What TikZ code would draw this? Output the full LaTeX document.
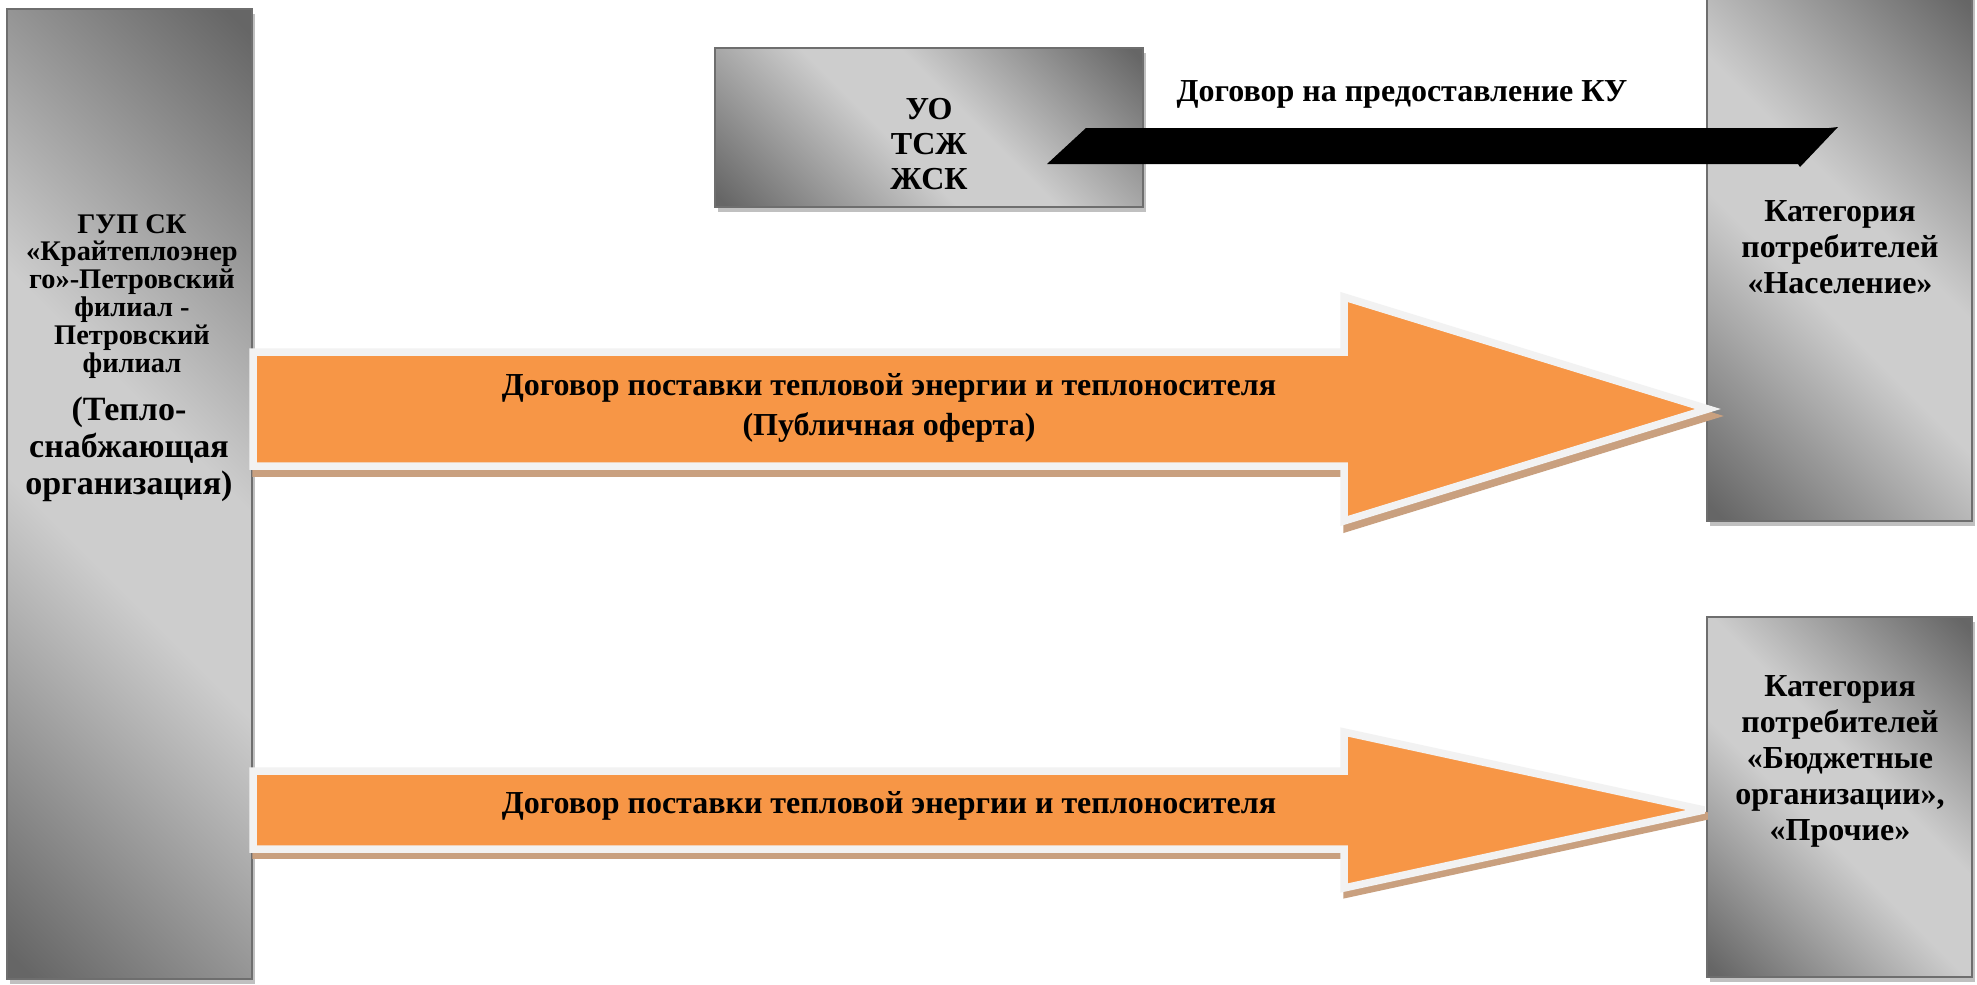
\documentclass[tikz,border=0pt]{standalone}
\usepackage{fontspec}
\setmainfont{Liberation Serif}
\usetikzlibrary{fit}
\definecolor{dk}{RGB}{102,102,102}
\definecolor{lt}{RGB}{205,205,205}
\definecolor{orng}{RGB}{247,150,70}
\definecolor{brd}{RGB}{242,242,242}
\definecolor{shtan}{RGB}{201,160,127}
\definecolor{bshadow}{RGB}{192,192,192}
\definecolor{bline}{RGB}{110,110,110}
\pgfdeclarehorizontalshading{boxgrad}{100bp}{color(0bp)=(dk); color(33bp)=(dk); color(47bp)=(lt); color(53bp)=(lt); color(67bp)=(dk); color(100bp)=(dk)}
\tikzset{
  boxframe/.style={draw=bline, line width=1pt, inner sep=0pt},
  txt/.style={align=center, inner sep=0pt, anchor=base, font=\fontsize{16}{18}\selectfont\bfseries},
  orangearrow/.style={fill=orng, draw=brd, line width=3.75pt, line join=miter, miter limit=4},
  arrowshadow/.style={fill=shtan, draw=shtan, line width=3.75pt, line join=miter, miter limit=4},
}
\begin{document}
\begin{tikzpicture}[x=0.5pt, y=-0.5pt]
\useasboundingbox (0,0) rectangle (1977,985);
\fill[white] (0,0) rectangle (1977,985);

% ---- left box
\fill[bshadow] (10,14) rectangle (255,984);
\begin{scope}
\clip (7,9) rectangle (252,979);
\shade[shading=boxgrad, shading angle=45] (129.5-607.5,494-607.5) rectangle (129.5+607.5,494+607.5);
\end{scope}
\node[boxframe, fit={(7,9) (252,979)}] (tso) {};

% ---- UO box
\fill[bshadow] (718,53) rectangle (1146,212);
\begin{scope}
\clip (715,48) rectangle (1143,207);
\shade[shading=boxgrad, shading angle=45] (929-293.5,127.5-293.5) rectangle (929+293.5,127.5+293.5);
\end{scope}
\node[boxframe, fit={(715,48) (1143,207)}] (uo) {};

% ---- right top box
\fill[bshadow] (1710,-5) rectangle (1975,526);
\begin{scope}
\clip (1707,-10) rectangle (1972,521);
\shade[shading=boxgrad, shading angle=45] (1839.5-398,255.5-398) rectangle (1839.5+398,255.5+398);
\end{scope}
\node[boxframe, fit={(1707,-10) (1972,521)}] (pop) {};

% ---- right bottom box
\fill[bshadow] (1710,622) rectangle (1975,982);
\begin{scope}
\clip (1707,617) rectangle (1972,977);
\shade[shading=boxgrad, shading angle=45] (1839.5-312.5,797-312.5) rectangle (1839.5+312.5,797+312.5);
\end{scope}
\node[boxframe, fit={(1707,617) (1972,977)}] (bud) {};

% ---- box texts (anchor base = baseline of last line)
\node[txt, font=\fontsize{14.2}{13.9}\selectfont\bfseries] (tsotxt) at (132,372)
  {ГУП СК\\«Крайтеплоэнер\\го»-Петровский\\филиал -\\Петровский\\филиал};
\node[txt, font=\fontsize{17}{18.5}\selectfont\bfseries] (tsotxt2) at (129,494)
  {(Тепло-\\снабжающая\\организация)};
\node[txt, font=\fontsize{16}{17.5}\selectfont\bfseries] (uotxt) at (929,189) {УО\\ТСЖ\\ЖСК};
\node[txt] (poptxt) at (1840,293) {Категория\\потребителей\\«Население»};
\node[txt] (budtxt) at (1840,840) {Категория\\потребителей\\«Бюджетные\\организации»,\\«Прочие»};

% ---- orange arrow 1
\coordinate (a1t) at (1708,409);
\draw[arrowshadow, shift={(3,7)}] (253,352) -- (1344,352) -- (1344,297) -- (1708,409) -- (1344,521) -- (1344,466) -- (253,466) -- cycle;
\draw[orangearrow] (253,352) -- (1344,352) -- (1344,297) -- (a1t) -- (1344,521) -- (1344,466) -- (253,466) -- cycle;
\node[txt, font=\fontsize{16}{20}\selectfont\bfseries] (a1txt) at (889,435)
  {Договор поставки тепловой энергии и теплоносителя\\(Публичная оферта)};

% ---- orange arrow 2
\coordinate (a2t) at (1704,810);
\draw[arrowshadow, shift={(3,6)}] (253,771) -- (1344,771) -- (1344,732) -- (1704,810) -- (1344,888) -- (1344,849) -- (253,849) -- cycle;
\draw[orangearrow] (253,771) -- (1344,771) -- (1344,732) -- (a2t) -- (1344,888) -- (1344,849) -- (253,849) -- cycle;
\node[txt] (a2txt) at (889,813) {Договор поставки тепловой энергии и теплоносителя};

% ---- black arrow
\fill[black] (1047,164) -- (1086,128) -- (1829,128) -- (1838,127) -- (1800,167) -- (1798,164) -- cycle;
\node[txt] (kutxt) at (1402,101) {Договор на предоставление КУ};
\end{tikzpicture}
\end{document}
